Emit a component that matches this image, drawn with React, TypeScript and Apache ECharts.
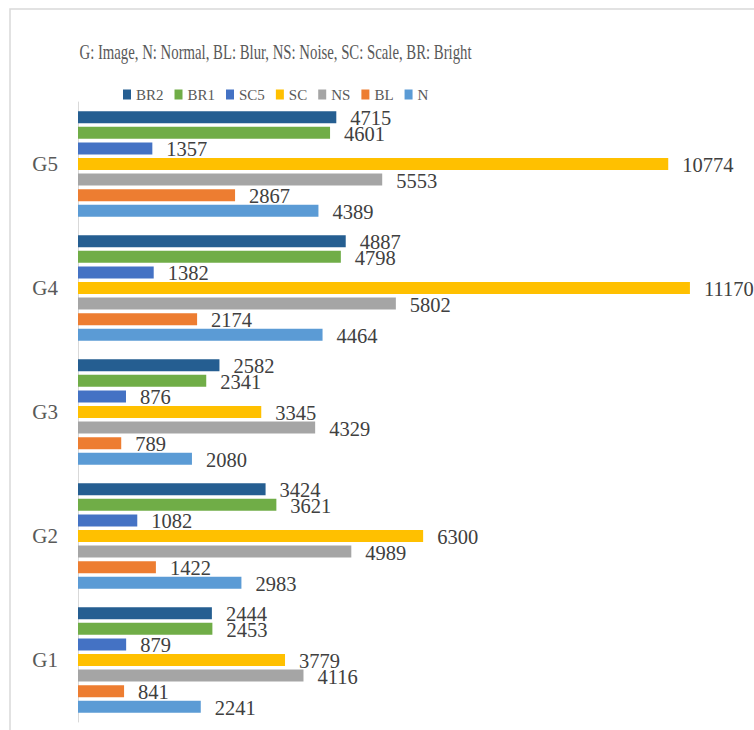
import React, { useEffect, useRef } from "react";
import * as echarts from "echarts";

const categories = ["G1", "G2", "G3", "G4", "G5"];
const seriesNames = ["BR2", "BR1", "SC5", "SC", "NS", "BL", "N"];
const colors = ["#255E91", "#70AD47", "#4472C4", "#FFC000", "#A5A5A5", "#ED7D31", "#5B9BD5"];

const BR2 = [2444, 3424, 2582, 4887, 4715];
const BR1 = [2453, 3621, 2341, 4798, 4601];
const SC5 = [879, 1082, 876, 1382, 1357];
const SC = [3779, 6300, 3345, 11170, 10774];
const NS = [4116, 4989, 4329, 5802, 5553];
const BL = [841, 1422, 789, 2174, 2867];
const N = [2241, 2983, 2080, 4464, 4389];

const seriesValues = [BR2, BR1, SC5, SC, NS, BL, N];
const titleText = "G: Image, N: Normal, BL: Blur, NS: Noise, SC: Scale, BR: Bright";

const SERIF = "Liberation Serif";

export default function App() {
  const ref = useRef<HTMLDivElement>(null);
  useEffect(() => {
    if (!ref.current) return;
    const chart = echarts.init(ref.current, undefined, { renderer: "svg" });
    chart.setOption({
      animation: false,
      backgroundColor: "#ffffff",
      color: colors,
      graphic: [
        {
          type: "rect",
          shape: { x: 10, y: 9, width: 900, height: 900 },
          style: { fill: "none", stroke: "#d9d9d9", lineWidth: 1.5 },
          silent: true,
        },
        {
          type: "text",
          x: 275.5,
          y: 52,
          scaleX: 0.703,
          style: {
            text: titleText,
            x: 0,
            y: 0,
            textAlign: "center",
            textVerticalAlign: "middle",
            fontFamily: SERIF,
            fontSize: 21,
            fill: "#595959",
          },
        },
      ],
      legend: {
        data: seriesNames,
        left: 123,
        top: 87,
        padding: 0,
        itemWidth: 8,
        itemHeight: 10,
        itemGap: 11,
        icon: "rect",
        textStyle: { fontFamily: SERIF, fontSize: 15, color: "#595959" },
      },
      grid: { left: 78, top: 102, right: 18.6, bottom: 8, containLabel: false },
      xAxis: {
        type: "value",
        min: 0,
        max: 12000,
        show: false,
        splitLine: { show: false },
      },
      yAxis: {
        type: "category",
        data: categories,
        axisLine: { show: true, lineStyle: { color: "#d9d9d9", width: 1 } },
        axisTick: { show: false },
        axisLabel: {
          fontFamily: SERIF,
          fontSize: 21,
          color: "#595959",
          margin: 20,
        },
      },
      series: seriesNames.map((name, i) => ({
        name,
        type: "bar",
        data: seriesValues[i],
        barWidth: 12,
        barGap: "30%",
        itemStyle: { color: colors[i] },
        label: {
          show: true,
          position: "right",
          distance: 14,
          offset: [0, 1],
          fontFamily: SERIF,
          fontSize: 20.5,
          color: "#404040",
        },
      })),
    });
    return () => chart.dispose();
  }, []);
  return <div ref={ref} style={{ width: 754, height: 730, position: "absolute", left: 0, top: 0 }} />;
}
